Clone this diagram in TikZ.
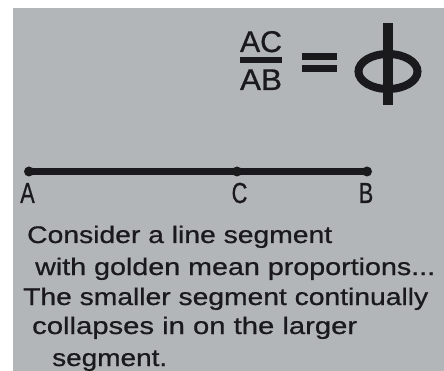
\documentclass[tikz,border=0pt]{standalone}
\usepackage{fontspec}
\setmainfont{Liberation Sans}
\newfontfamily\heavy{Liberation Sans}[FakeBold=0.7]
\usepackage{graphicx}
\definecolor{bg}{RGB}{179,182,184}
\definecolor{ink}{RGB}{26,26,28}
\begin{document}
\begin{tikzpicture}[x=1pt,y=-1pt,
  txt/.style={anchor=base west, inner sep=0pt, text=ink, font=\heavy\fontsize{24}{24}\selectfont},
  lbl/.style={anchor=base, inner sep=0pt, text=ink, font=\heavy\fontsize{29}{29}\selectfont},
  frac/.style={anchor=base, inner sep=0pt, text=ink, font=\heavy\fontsize{30}{30}\selectfont},
  pt/.style={circle, fill=ink, inner sep=0pt, minimum size=10pt},
  seg/.style={ink, line width=6.5pt}]
\useasboundingbox (0,0) rectangle (444,371);
\fill[bg] (13,8) rectangle (444,371);
% formula
\node[frac] (ac) at (261,52) {\resizebox{42pt}{\height}{AC}};
\node[frac] (ab) at (261,90) {\resizebox{42pt}{\height}{AB}};
\fill[ink] (240,57) rectangle (282,63);
\fill[ink] (302,53) rectangle (337,60);
\fill[ink] (302,65) rectangle (337,72);
\fill[ink] (382.5,23) rectangle (393,105);
\draw[ink, line width=8pt] (388,71.5) ellipse [x radius=29.5, y radius=17.5];
% segment
\node[pt] (A) at (29,171.5) {};
\node[pt] (C) at (237,171.5) {};
\node[pt] (B) at (367,171.5) {};
\draw[seg] (A.center) -- (B.center);
\node[lbl] (la) at (27.5,203) {\scalebox{0.75}[1]{A}};
\node[lbl] (lc) at (239.5,203) {\scalebox{0.75}[1]{C}};
\node[lbl] (lb) at (366,203) {\scalebox{0.75}[1]{B}};
% text
\node[txt] (t1) at (27,243) {\resizebox{305pt}{\height}{Consider a line segment}};
\node[txt] (t2) at (35,275) {\resizebox{400pt}{\height}{with golden mean proportions...}};
\node[txt] (t3) at (23,305) {\resizebox{405pt}{\height}{The smaller segment continually}};
\node[txt] (t4) at (32,334) {\resizebox{325pt}{\height}{collapses in on the larger}};
\node[txt] (t5) at (52,366) {\resizebox{115pt}{\height}{segment.}};
\end{tikzpicture}
\end{document}
